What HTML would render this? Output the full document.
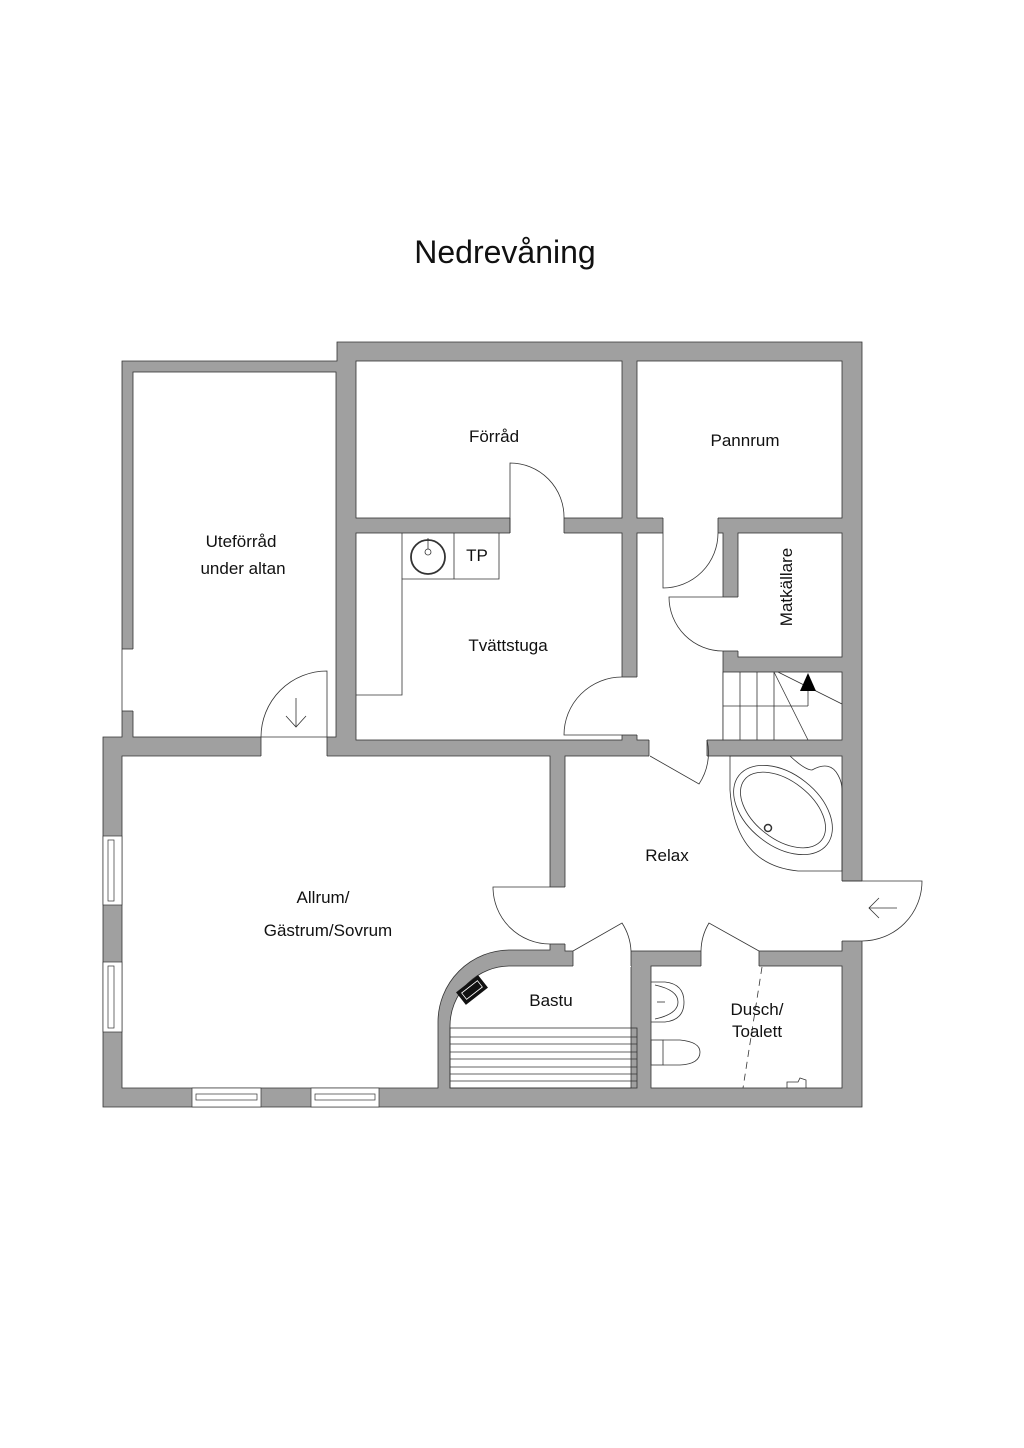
<!DOCTYPE html>
<html><head><meta charset="utf-8"><style>
html,body{margin:0;padding:0;background:#fff;}
svg{display:block;}
text{font-family:"Liberation Sans",sans-serif;fill:#111;}
</style></head><body>
<svg width="1024" height="1448" viewBox="0 0 1024 1448" xmlns="http://www.w3.org/2000/svg">
<rect width="1024" height="1448" fill="#fff"/>
<text x="505" y="263" font-size="32" text-anchor="middle">Nedrevåning</text>

<!-- building mass -->
<path d="M122 361 L337 361 L337 342 L862 342 L862 1107 L103 1107 L103 737 L122 737 Z" fill="#a0a0a0" stroke="#333" stroke-width="0.8"/>

<g fill="#fff" stroke="#333" stroke-width="0.8">
<rect x="133" y="372" width="203" height="365"/>
<rect x="356" y="361" width="266" height="157"/>
<rect x="637" y="361" width="205" height="157"/>
<rect x="356" y="533" width="266" height="207"/>
<rect x="637" y="533" width="86" height="207"/>
<rect x="738" y="533" width="104" height="124"/>
<rect x="723" y="672" width="119" height="68"/>
<rect x="565" y="756" width="277" height="195"/>
<path d="M122 756 L550 756 L550 950 L510 950 A72 72 0 0 0 438 1022 L438 1088 L122 1088 Z"/>
<path d="M510 966 L631 966 L631 1088 L450 1088 L450 1026 A60 60 0 0 1 510 966 Z"/>
<rect x="651" y="966" width="191" height="122"/>
</g>

<!-- openings -->
<g fill="#fff" stroke="none">
<rect x="121" y="649" width="13" height="62"/>
<rect x="261" y="736" width="66" height="21"/>
<rect x="510" y="517" width="54" height="17"/>
<rect x="663" y="517" width="55" height="17"/>
<rect x="621" y="677" width="17" height="58"/>
<rect x="722" y="597" width="17" height="54"/>
<rect x="649" y="739" width="58" height="18"/>
<rect x="549" y="887" width="17" height="57"/>
<rect x="573" y="950" width="58" height="17"/>
<rect x="701" y="950" width="58" height="17"/>
<rect x="841" y="881" width="22" height="60"/>
</g>
<g stroke="#333" stroke-width="0.8" fill="none">
<line x1="122" y1="649" x2="133" y2="649"/><line x1="122" y1="711" x2="133" y2="711"/><line x1="122" y1="649" x2="122" y2="711"/>
<line x1="261" y1="737" x2="261" y2="756"/><line x1="327" y1="737" x2="327" y2="756"/><line x1="261" y1="737" x2="327" y2="737"/>
<line x1="622" y1="677" x2="637" y2="677"/><line x1="622" y1="735" x2="637" y2="735"/>
<line x1="723" y1="597" x2="738" y2="597"/><line x1="723" y1="651" x2="738" y2="651"/>
<line x1="550" y1="887" x2="565" y2="887"/><line x1="550" y1="944" x2="565" y2="944"/>
<line x1="842" y1="881" x2="862" y2="881"/><line x1="842" y1="941" x2="862" y2="941"/>
<line x1="510" y1="518" x2="510" y2="533"/><line x1="564" y1="518" x2="564" y2="533"/>
<line x1="663" y1="518" x2="663" y2="533"/><line x1="718" y1="518" x2="718" y2="533"/>
<line x1="649" y1="740" x2="649" y2="756"/><line x1="707" y1="740" x2="707" y2="756"/>
<line x1="573" y1="951" x2="573" y2="966"/><line x1="631" y1="951" x2="631" y2="966"/>
<line x1="701" y1="951" x2="701" y2="966"/><line x1="759" y1="951" x2="759" y2="966"/>
</g>

<!-- windows -->
<g fill="#fff" stroke="#333" stroke-width="0.7">
<rect x="103" y="836" width="19" height="69"/><rect x="108" y="840" width="6" height="61"/>
<rect x="103" y="962" width="19" height="70"/><rect x="108" y="966" width="6" height="62"/>
<rect x="192" y="1088" width="69" height="19"/><rect x="196" y="1094" width="61" height="6"/>
<rect x="311" y="1088" width="68" height="19"/><rect x="315" y="1094" width="60" height="6"/>
</g>

<!-- doors -->
<g stroke="#333" stroke-width="0.8" fill="none">
<path d="M510 533 L510 463 A54 54 0 0 1 564 518"/>
<path d="M327 737 L327 671 A66 66 0 0 0 261 737"/>
<path d="M296 698 L296 727 M286 716 L296 727 L306 716"/>
<path d="M622 735 L564 735 A58 58 0 0 1 622 677"/>
<path d="M663 533 L663 588 A55 55 0 0 0 718 533"/>
<path d="M723 597 L669 597 A54 54 0 0 0 723 651"/>
<path d="M650 756 L699 784 A56 56 0 0 0 707 740"/>
<path d="M550 887 L493 887 A57 57 0 0 0 550 944"/>
<path d="M573 951 L622 923 A56 56 0 0 1 631 951"/>
<path d="M759 951 L709 923 A56 56 0 0 0 701 951"/>
<path d="M842 881 L922 881 A60 60 0 0 1 862 941"/>
<path d="M897 908 L869 908 M879 898 L869 908 L879 918"/>
</g>

<!-- Tvättstuga fixtures -->
<g stroke="#333" stroke-width="0.8" fill="none">
<path d="M356 695 L402 695 L402 579 L499 579 L499 533"/>
<line x1="402" y1="533" x2="402" y2="579"/>
<line x1="454" y1="533" x2="454" y2="579"/>
<circle cx="428" cy="557" r="17" stroke-width="1.8"/>
<circle cx="428" cy="552" r="3"/>
<line x1="428" y1="538" x2="428" y2="549"/>
</g>

<!-- stairs -->
<g stroke="#333" stroke-width="0.8" fill="none">
<line x1="740" y1="672" x2="740" y2="740"/>
<line x1="757" y1="672" x2="757" y2="740"/>
<line x1="774" y1="672" x2="774" y2="740"/>
<line x1="723" y1="706" x2="808" y2="706"/>
<line x1="808" y1="691" x2="808" y2="706"/>
<line x1="774" y1="672" x2="808" y2="740"/>
<line x1="778" y1="672" x2="842" y2="704"/>
</g>
<polygon points="808,673 800,691 816,691" fill="#000"/>

<!-- tub -->
<g stroke="#333" stroke-width="0.8" fill="none">
<path d="M842 871 L798 871 Q735 865 730 790 L730 756 L790 756 Q805 770 812 770 Q830 760 838 775 Q842 782 842 790 Z"/>
<ellipse cx="783" cy="810" rx="56" ry="36" transform="rotate(38 783 810)"/>
<ellipse cx="783" cy="810" rx="49" ry="29" transform="rotate(38 783 810)"/>
<circle cx="768" cy="828" r="3.5" stroke-width="1.5"/>
</g>

<!-- Bastu -->
<g stroke="#333" stroke-width="0.8" fill="none">
<rect x="450" y="1028" width="187" height="60"/>
<line x1="450" y1="1037" x2="637" y2="1037"/>
<line x1="450" y1="1044" x2="637" y2="1044"/>
<line x1="450" y1="1052" x2="637" y2="1052"/>
<line x1="450" y1="1059" x2="637" y2="1059"/>
<line x1="450" y1="1067" x2="637" y2="1067"/>
<line x1="450" y1="1074" x2="637" y2="1074"/>
<line x1="450" y1="1081" x2="637" y2="1081"/>
</g>
<g transform="rotate(-38 472 990)">
<rect x="458" y="982" width="28" height="16" fill="#111"/>
<rect x="462" y="986" width="20" height="8" fill="none" stroke="#fff" stroke-width="0.8"/>
</g>

<!-- WC -->
<g stroke="#333" stroke-width="0.8" fill="none">
<path d="M651 982 L665 982 Q684 984 684 1002 Q684 1020 665 1022 L651 1022"/>
<path d="M655 985 Q678 990 678 1002 Q678 1014 655 1019"/>
<line x1="657" y1="1002" x2="665" y2="1002"/>
<rect x="651" y="1040" width="12" height="25"/>
<path d="M663 1040 L680 1040 Q700 1042 700 1052 Q700 1064 680 1065 L663 1065"/>
<line x1="762" y1="967" x2="743" y2="1088" stroke-dasharray="7 5"/>
<path d="M787 1088 L787 1082 L798 1082 L800 1078 L806 1080 L806 1088"/>
</g>

<!-- labels -->
<g font-size="17" text-anchor="middle">
<text x="494" y="442">Förråd</text>
<text x="745" y="446">Pannrum</text>
<text x="241" y="547">Uteförråd</text>
<text x="243" y="574">under altan</text>
<text x="477" y="561">TP</text>
<text x="508" y="651">Tvättstuga</text>
<text x="667" y="861">Relax</text>
<text x="323" y="903">Allrum/</text>
<text x="328" y="936">Gästrum/Sovrum</text>
<text x="551" y="1006">Bastu</text>
<text x="757" y="1015">Dusch/</text>
<text x="757" y="1037">Toalett</text>
<text x="798" y="593" transform="rotate(-90 792 593)">Matkällare</text>
</g>
</svg>
</body></html>
